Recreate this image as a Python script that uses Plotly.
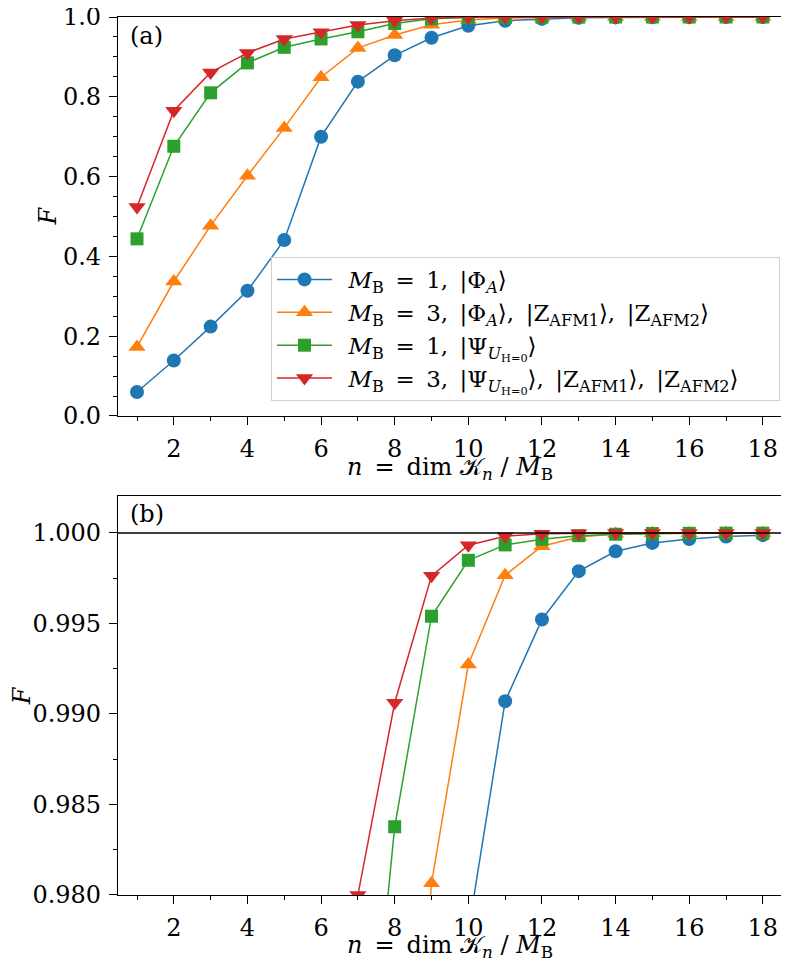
import plotly.graph_objects as go

# data
n = list(range(1, 19))

f_phi_mb1 = [0.060, 0.139, 0.224, 0.314, 0.441, 0.700, 0.838, 0.904, 0.948, 0.978,
             0.99071, 0.99522, 0.99789, 0.99899, 0.99945, 0.99967, 0.99980, 0.99988]
f_phi_mb3 = [0.173, 0.337, 0.477, 0.602, 0.722, 0.849, 0.922, 0.955, 0.98065, 0.99273,
             0.99766, 0.99927, 0.99978, 0.99994, 0.99998, 0.99999, 1.0, 1.0]
f_psi_mb1 = [0.444, 0.676, 0.810, 0.885, 0.924, 0.945, 0.963, 0.98377, 0.9954, 0.99849,
             0.99934, 0.99965, 0.99985, 0.99993, 0.99997, 0.99998, 0.99999, 0.99999]
f_psi_mb3 = [0.524, 0.765, 0.861, 0.910, 0.945, 0.962, 0.980, 0.99062, 0.99763, 0.99932,
             0.99982, 0.99995, 0.99999, 1.0, 1.0, 1.0, 1.0, 1.0]

EQ = "\u2002=\u2002"
SEP = ",\u2002"
labels = [
    "<i>M</i><sub>B</sub>" + EQ + "1" + SEP + "|Φ<sub><i>A</i></sub>⟩",
    "<i>M</i><sub>B</sub>" + EQ + "3" + SEP + "|Φ<sub><i>A</i></sub>⟩" + SEP
    + "|Z<sub>AFM1</sub>⟩" + SEP + "|Z<sub>AFM2</sub>⟩",
    "<i>M</i><sub>B</sub>" + EQ + "1" + SEP + "|Ψ<sub><i>U</i><sub>H=0</sub></sub>⟩",
    "<i>M</i><sub>B</sub>" + EQ + "3" + SEP + "|Ψ<sub><i>U</i><sub>H=0</sub></sub>⟩" + SEP
    + "|Z<sub>AFM1</sub>⟩" + SEP + "|Z<sub>AFM2</sub>⟩",
]
# a bit of extra room around the legend text, like the matplotlib legend
labels = ["\u2002" + s + "\u2003\u2002" for s in labels]
colors = ["#1f77b4", "#ff7f0e", "#2ca02c", "#d62728"]
symbols = ["circle", "triangle-up", "square", "triangle-down"]
sizes = [14, 15, 13, 15]

FONT = "DejaVu Serif"

fig = go.Figure()
for vals, lab, col, sym, sz in zip([f_phi_mb1, f_phi_mb3, f_psi_mb1, f_psi_mb3],
                                   labels, colors, symbols, sizes):
    for ax, show in [("", True), ("2", False)]:
        fig.add_trace(go.Scatter(
            x=n, y=vals, mode="lines+markers", name=lab, showlegend=show,
            line=dict(color=col, width=1.5),
            marker=dict(color=col, symbol=sym, size=sz),
            xaxis="x" + ax, yaxis="y" + ax,
        ))

axis_common = dict(
    showline=True, linecolor="black", linewidth=1.2, mirror=True,
    ticks="outside", ticklen=8, tickwidth=1.2, tickcolor="black",
    showgrid=False, zeroline=False, automargin=False, ticklabelstandoff=3,
    ticklabeloverflow="allow",
    tickfont=dict(family=FONT, size=24, color="black"),
)
xminor = dict(dtick=1, tick0=1, ticks="outside", ticklen=4, tickcolor="black")

# the page body adds an 8px offset, so the figure is 8px smaller than the window
fig.update_layout(
    width=781, height=969,
    margin=dict(l=110, r=7, t=9, b=82),
    paper_bgcolor="white", plot_bgcolor="white",
    font=dict(family=FONT, color="black"),
    xaxis=dict(axis_common, domain=[0, 1], range=[0.484, 18.52], dtick=2, tick0=0,
               anchor="y", minor=xminor),
    yaxis=dict(axis_common, domain=[0.5456, 1], range=[0, 1], dtick=0.2,
               tickformat=".1f", anchor="x",
               minor=dict(dtick=0.05, ticks="outside", ticklen=4, tickcolor="black")),
    xaxis2=dict(axis_common, domain=[0, 1], range=[0.484, 18.52], dtick=2, tick0=0,
                anchor="y2", minor=xminor),
    yaxis2=dict(axis_common, domain=[0, 0.4544], range=[0.98, 1.00204], dtick=0.005,
                tickformat=".3f", anchor="x2",
                minor=dict(dtick=0.0025, ticks="outside", ticklen=4, tickcolor="black")),
    legend=dict(
        x=0.997, xanchor="right", y=0.7267, yanchor="top",
        bgcolor="rgba(255,255,255,0.8)", bordercolor="#d0d0d0", borderwidth=1,
        font=dict(family=FONT, size=23, color="black"),
        itemwidth=55, tracegroupgap=0,
    ),
)

fig.add_shape(type="line", xref="x2 domain", yref="y2", x0=0, x1=1, y0=1.0, y1=1.0,
              line=dict(color="black", width=1.5), layer="above")

xtitle = "<i>n</i>" + EQ + "dim 𝒦<sub><i>n</i></sub> / <i>M</i><sub>B</sub>"
annots = [
    dict(text="(a)", xref="x domain", yref="y domain", x=0.015, y=0.952,
         xanchor="left", yanchor="middle", showarrow=False, font=dict(size=24)),
    dict(text="(b)", xref="x2 domain", yref="y2 domain", x=0.015, y=0.955,
         xanchor="left", yanchor="middle", showarrow=False, font=dict(size=24)),
    dict(text=xtitle, xref="paper", yref="paper", x=0.5, y=0.4863,
         xanchor="center", yanchor="middle", showarrow=False, font=dict(size=24)),
    dict(text=xtitle, xref="paper", yref="paper", x=0.5, y=-0.0592,
         xanchor="center", yanchor="middle", showarrow=False, font=dict(size=24)),
    dict(text="<i>F</i>", xref="paper", yref="paper", x=-0.1054, y=0.7728,
         xanchor="center", yanchor="middle", textangle=-90, showarrow=False,
         font=dict(size=24)),
    dict(text="<i>F</i>", xref="paper", yref="paper", x=-0.145, y=0.2272,
         xanchor="center", yanchor="middle", textangle=-90, showarrow=False,
         font=dict(size=24)),
]
for a in annots:
    fig.add_annotation(**a)

fig.write_html("out.html")
